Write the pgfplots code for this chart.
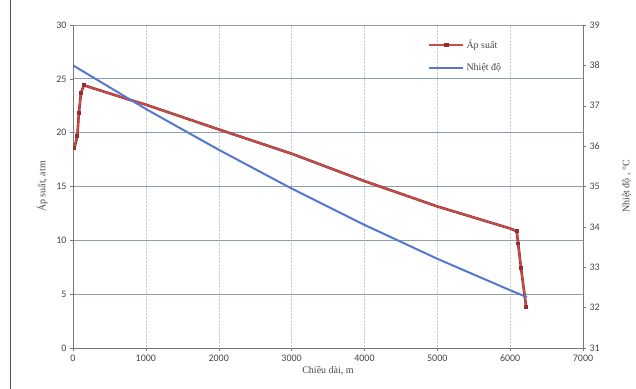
\documentclass[border=0pt]{standalone}
\usepackage{pgfplots}
\pgfplotsset{compat=1.18}
\usepackage{fontspec}
\setmainfont{Liberation Serif}
\newfontfamily\carlito{Carlito}
\definecolor{pres}{RGB}{196,78,74}
\definecolor{presd}{RGB}{150,45,45}
\definecolor{temp}{RGB}{85,120,205}
\definecolor{hgrid}{RGB}{140,158,178}
\definecolor{vgrid}{RGB}{205,205,205}
\definecolor{axc}{RGB}{120,120,120}
\definecolor{txt}{RGB}{70,70,70}
\begin{document}
\begin{tikzpicture}
\pgfplotsset{
  common/.style={
    scale only axis, width=510pt, height=323pt,
    xmin=0, xmax=7000,
    /pgf/number format/assume math mode=true,
    ticklabel style={font=\carlito\fontsize{10}{12}\selectfont, text=txt},
    label style={font=\fontsize{10}{12}\selectfont, text=txt},
    tick style={axc, thin},
    axis line style={axc, thin},
    tick align=outside,
    major tick length=3pt,
  }
}
\begin{axis}[common, name=ax,
  axis y line*=left, axis x line*=bottom,
  ymin=0, ymax=30, ytick={0,5,...,30},
  xtick={0,1000,...,7000},
  /pgf/number format/1000 sep={},
  ymajorgrids, xmajorgrids,
  xlabel={Chiều dài, m},
  ylabel={Áp suất, atm},
  xlabel style={yshift=2pt},
  ylabel style={yshift=2pt},
  x grid style={vgrid, thin, densely dotted},
  y grid style={hgrid, line width=0.8pt},
]
\addplot[presd, line width=2.6pt] coordinates {
(20,18.6) (60,19.7) (80,21.8) (110,23.7) (150,24.4) (780,23.05) (1000,22.6)
(2000,20.3) (3000,18.05) (4000,15.5) (5000,13.15) (6000,11.1) (6090,10.85)
(6110,9.7) (6150,7.4) (6220,3.8)
};
\addplot[pres, line width=1.6pt, mark=square*, mark size=1.1pt,
  mark indices={1,2,3,4,5,13,14,15,16},
  mark options={fill=pres, draw=presd}] coordinates {
(20,18.6) (60,19.7) (80,21.8) (110,23.7) (150,24.4) (780,23.05) (1000,22.6)
(2000,20.3) (3000,18.05) (4000,15.5) (5000,13.15) (6000,11.1) (6090,10.85)
(6110,9.7) (6150,7.4) (6220,3.8)
};
\end{axis}
\begin{axis}[common,
  axis y line*=right, axis x line=none,
  ymin=31, ymax=39, ytick={31,...,39},
  ylabel={Nhiệt độ , °C},
  ylabel style={yshift=-16pt},
  legend style={draw=none, fill=none, at={(0.69,0.967)}, anchor=north west,
    font=\fontsize{10}{12}\selectfont, text=txt, row sep=10pt,
    legend cell align=left},
  legend image code/.code={\draw[#1] (0pt,0pt) -- (34pt,0pt); },
]
\addlegendimage{legend image code/.code={
  \draw[presd, line width=2.4pt] (0pt,0pt) -- (34pt,0pt);
  \draw[pres, line width=1.4pt] (0pt,0pt) -- (34pt,0pt);
  \fill[presd] (15pt,-1.6pt) rectangle (19pt,1.6pt);}}
\addlegendentry{Áp suất}
\addplot[temp, line width=2pt] coordinates {
(0,38.0) (1000,36.92) (2000,35.91) (3000,34.95) (4000,34.05) (5000,33.21) (6000,32.43) (6230,32.26)
};
\addlegendentry{Nhiệt độ}
\end{axis}
\pgfresetboundingbox
\useasboundingbox ([shift={(-73pt,-41pt)}]ax.south west) rectangle ([shift={(53pt,25pt)}]ax.north east);
\draw[black!70, line width=0.8pt] ([shift={(-63pt,-41pt)}]ax.south west) -- ++(0,389pt);
\end{tikzpicture}
\end{document}
